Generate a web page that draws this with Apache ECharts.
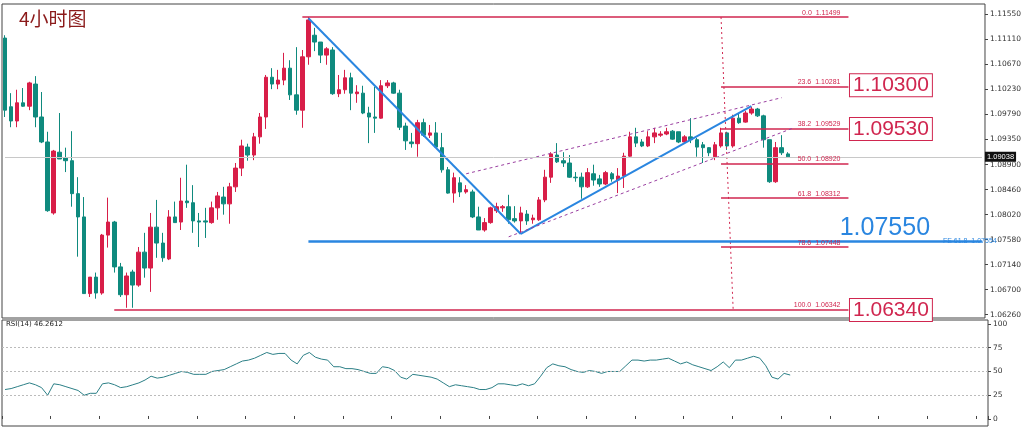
<!DOCTYPE html>
<html><head><meta charset="utf-8">
<script src="https://cdn.jsdelivr.net/npm/echarts@6/dist/echarts.min.js"></script>
<style>html,body{margin:0;padding:0;background:#fff}#c{width:1024px;height:427px}</style>
</head><body><div id="c"></div>
<script>
// [open, close, low, high]
const candles = [
[1.1113,1.0986,1.0974,1.1118],[1.0992,1.0967,1.0956,1.1016],[1.0967,1.0999,1.0956,1.1022],[1.0999,1.0993,1.0992,1.1025],
[1.0993,1.1034,1.0986,1.1036],[1.1032,1.0974,1.0956,1.1046],[1.0974,1.0930,1.0928,1.1018],[1.0930,1.0809,1.0807,1.0948],
[1.0805,1.0914,1.0802,1.0916],[1.0912,1.0900,1.0900,1.0981],[1.0902,1.0897,1.0877,1.0920],[1.0897,1.0839,1.0816,1.0949],
[1.0839,1.0798,1.0728,1.0868],[1.0798,1.0663,1.0663,1.0833],[1.0663,1.0692,1.0657,1.0692],[1.0692,1.0664,1.0654,1.0700],
[1.0664,1.0766,1.0661,1.0768],[1.0766,1.0789,1.0744,1.0832],[1.0789,1.0710,1.0700,1.0791],[1.0710,1.0661,1.0657,1.0717],
[1.0661,1.0694,1.0638,1.0700],[1.0701,1.0678,1.0638,1.0705],[1.0678,1.0736,1.0675,1.0745],[1.0736,1.0708,1.0691,1.0770],
[1.0708,1.0780,1.0666,1.0805],[1.0780,1.0752,1.0726,1.0828],[1.0752,1.0726,1.0719,1.0770],[1.0724,1.0798,1.0722,1.0810],
[1.0798,1.0788,1.0788,1.0825],[1.0789,1.0826,1.0775,1.0867],[1.0826,1.0823,1.0814,1.0890],[1.0823,1.0791,1.0770,1.0854],
[1.0791,1.0789,1.0745,1.0805],[1.0791,1.0789,1.0761,1.0814],[1.0788,1.0814,1.0786,1.0825],[1.0814,1.0835,1.0793,1.0842],
[1.0833,1.0821,1.0802,1.0851],[1.0821,1.0851,1.0786,1.0858],[1.0851,1.0884,1.0842,1.0893],[1.0884,1.0923,1.0870,1.0934],
[1.0921,1.0907,1.0897,1.0927],[1.0907,1.0939,1.0898,1.0946],[1.0939,1.0974,1.0927,1.0981],[1.0974,1.1044,1.0953,1.1048],
[1.1044,1.1032,1.1023,1.1060],[1.1032,1.1039,1.1023,1.1057],[1.1039,1.1060,1.1030,1.1087],[1.1060,1.1013,1.1004,1.1074],
[1.1013,1.0986,1.0978,1.1097],[1.0986,1.1080,1.0955,1.1092],[1.1080,1.1145,1.1066,1.1150],[1.1118,1.1106,1.1090,1.1131],
[1.1106,1.1083,1.1069,1.1106],[1.1083,1.1094,1.1066,1.1097],[1.1092,1.1015,1.1013,1.1097],[1.1015,1.1022,1.1009,1.1048],
[1.1022,1.1043,1.1015,1.1057],[1.1043,1.1016,1.0986,1.1052],[1.1015,1.1018,1.0999,1.1030],[1.1016,1.0981,1.0979,1.1029],
[1.0981,1.0974,1.0928,1.0992],[1.0974,1.0972,1.0946,1.1027],[1.0972,1.1029,1.0971,1.1039],[1.1029,1.1034,1.1025,1.1039],
[1.1034,1.1016,1.1015,1.1036],[1.1016,1.0956,1.0951,1.1022],[1.0958,1.0932,1.0916,1.0964],[1.0930,1.0927,1.0920,1.0946],
[1.0927,1.0964,1.0904,1.0969],[1.0964,1.0942,1.0939,1.0971],[1.0942,1.0946,1.0937,1.0960],[1.0946,1.0921,1.0920,1.0965],
[1.0920,1.0881,1.0876,1.0946],[1.0881,1.0840,1.0839,1.0886],[1.0840,1.0867,1.0823,1.0876],[1.0858,1.0842,1.0833,1.0868],
[1.0842,1.0846,1.0839,1.0854],[1.0842,1.0798,1.0796,1.0846],[1.0798,1.0775,1.0775,1.0816],[1.0775,1.0788,1.0772,1.0796],
[1.0788,1.0814,1.0786,1.0816],[1.0809,1.0816,1.0805,1.0823],[1.0814,1.0816,1.0807,1.0819],[1.0816,1.0793,1.0786,1.0837],
[1.0795,1.0791,1.0788,1.0817],[1.0791,1.0805,1.0770,1.0816],[1.0803,1.0791,1.0784,1.0810],[1.0793,1.0796,1.0786,1.0802],
[1.0793,1.0828,1.0791,1.0833],[1.0828,1.0868,1.0824,1.0881],[1.0868,1.0909,1.0858,1.0912],[1.0907,1.0895,1.0893,1.0928],
[1.0897,1.0893,1.0886,1.0912],[1.0893,1.0868,1.0867,1.0907],[1.0868,1.0867,1.0860,1.0877],[1.0868,1.0851,1.0830,1.0876],
[1.0851,1.0876,1.0849,1.0884],[1.0874,1.0863,1.0853,1.0890],[1.0865,1.0856,1.0851,1.0872],[1.0856,1.0876,1.0854,1.0879],
[1.0874,1.0865,1.0860,1.0877],[1.0863,1.0870,1.0840,1.0884],[1.0870,1.0905,1.0849,1.0911],[1.0905,1.0939,1.0904,1.0948],
[1.0939,1.0928,1.0921,1.0955],[1.0930,1.0923,1.0921,1.0935],[1.0923,1.0939,1.0921,1.0949],[1.0939,1.0946,1.0928,1.0955],
[1.0942,1.0944,1.0939,1.0949],[1.0944,1.0948,1.0942,1.0955],[1.0949,1.0935,1.0934,1.0951],[1.0948,1.0930,1.0928,1.0948],
[1.0930,1.0939,1.0928,1.0942],[1.0939,1.0934,1.0928,1.0972],[1.0934,1.0921,1.0904,1.0937],[1.0925,1.0920,1.0893,1.0930],
[1.0920,1.0911,1.0905,1.0921],[1.0904,1.0925,1.0898,1.0930],[1.0923,1.0946,1.0920,1.0955],[1.0946,1.0923,1.0916,1.0948],
[1.0923,1.0972,1.0920,1.0978],[1.0972,1.0964,1.0962,1.0981],[1.0965,1.0981,1.0964,1.0985],[1.0981,1.0988,1.0978,1.0992],
[1.0988,1.0976,1.0974,1.0990],[1.0976,1.0934,1.0920,1.0978],[1.0934,1.0860,1.0858,1.0934],[1.0860,1.0920,1.0858,1.0930],
[1.0920,1.0911,1.0907,1.0942],[1.0909,1.09038,1.0902,1.0912]
];
const rsi = [31,32,34,36,38,36,33,25,37,36,34,32,30,25,27,27,37,38,36,33,34,36,38,41,45,43,44,46,48,50,
49,47,47,47,50,51,52,55,58,61,62,64,67,70,68,69,69,62,58,67,70,65,63,62,55,55,53,53,52,50,
48,48,55,54,51,44,42,47,46,45,44,42,38,34,36,35,34,33,31,31,33,37,37,36,35,37,35,37,45,54,
58,56,55,52,50,49,51,50,48,50,50,50,56,62,62,61,62,62,63,64,61,58,60,57,55,53,51,55,60,54,
62,62,64,66,64,56,44,42,48,46.26];
const fibLevels = ['0.0','23.6','38.2','50.0','61.8','78.6','100.0'];
const fibPrices = [1.11499,1.10281,1.09529,1.08920,1.08312,1.07448,1.06342];
const fibStart = [49,118,118,118,118,118,18];
const priceTicks = [1.1155,1.1111,1.1067,1.1023,1.0979,1.0935,1.0890,1.0846,1.0802,1.0758,1.0714,1.0670,1.0626];
const boxLabels = [['1.10300',1.1030],['1.09530',1.0953],['1.06340',1.0634]];
const lastPrice = 1.09038;
const feLevel = 1.0755;

const N = 162;
const cats = Array.from({length:N},(_,i)=>i);
const RED='#d81e48', TEAL='#0f8a7e', FIB='#d0264f', BLUE='#2a86e0';

const fibLines = fibPrices.map((p,i)=>[
  {coord:[fibStart[i],p], lineStyle:{color:FIB,width:1.5,type:'solid'},
   label:{show:true,position:'insideEndTop',formatter:fibLevels[i]+'  '+p.toFixed(5),color:FIB,fontSize:7,distance:[8,1]}},
  {coord:[139,p]}]);

const chart = echarts.init(document.getElementById('c'));
chart.setOption({
  animation:false,
  title:{text:'4小时图',left:14,top:4,textStyle:{fontFamily:'Noto Sans CJK SC',fontSize:19,fontWeight:'normal',color:'#8b1a1a'}},
  graphic:[{type:'text',left:6,top:321,style:{text:'RSI(14) 46.2612',fontSize:7,fill:'#222',fontFamily:'DejaVu Sans'}}],
  grid:[{left:2,right:36,top:4,height:314,show:true,borderColor:'#444',borderWidth:1},
        {left:2,right:36,top:320,height:106,show:true,borderColor:'#444',borderWidth:1}],
  xAxis:[{type:'category',data:cats,gridIndex:0,axisLine:{show:false},axisTick:{show:false},axisLabel:{show:false}},
         {type:'category',data:cats,gridIndex:1,axisLine:{show:false},axisTick:{show:true,interval:7,length:3,inside:true,lineStyle:{color:'#444'}},axisLabel:{show:false}}],
  yAxis:[{type:'value',gridIndex:0,position:'right',min:1.0620,max:1.1173,splitLine:{show:false},
          axisLine:{show:false},axisTick:{show:true,customValues:priceTicks,length:3,lineStyle:{color:'#444'}},
          axisLabel:{customValues:priceTicks,formatter:v=>v.toFixed(5),fontSize:7.5,color:'#333',margin:5,fontFamily:'DejaVu Sans'}},
         {type:'value',gridIndex:1,position:'right',min:-7.4,max:104.2,splitLine:{show:false},
          axisLine:{show:false},axisTick:{show:true,customValues:[0,25,50,75,100],length:3,lineStyle:{color:'#444'}},
          axisLabel:{customValues:[0,25,50,75,100],fontSize:7.5,color:'#333',margin:5,fontFamily:'DejaVu Sans'}}],
  series:[
    {type:'candlestick',xAxisIndex:0,yAxisIndex:0,data:candles,barWidth:4,
     itemStyle:{color:RED,color0:TEAL,borderColor:RED,borderColor0:TEAL,borderWidth:1},
     markLine:{silent:true,symbol:'none',animation:false,
       data:[
        ...fibLines,
        [{coord:[118,1.1150],lineStyle:{color:FIB,width:1,type:[2,3]},label:{show:false}},{coord:[120,1.0634]}],
        [{coord:[50,1.1148],lineStyle:{color:BLUE,width:2,type:'solid'},label:{show:false}},{coord:[85,1.0768]}],
        [{coord:[85,1.0768],lineStyle:{color:BLUE,width:2,type:'solid'},label:{show:false}},{coord:[123,1.0993]}],
        [{coord:[76,1.0874],lineStyle:{color:'#9a3fa0',width:1,type:[3,3]},label:{show:false}},{coord:[128,1.1008]}],
        [{coord:[83,1.0763],lineStyle:{color:'#9a3fa0',width:1,type:[3,3]},label:{show:false}},{coord:[130,1.0955]}],
        [{coord:[50,feLevel],lineStyle:{color:BLUE,width:2.5,type:'solid'},label:{show:false}},{coord:[161,feLevel]}],
        [{coord:[0,lastPrice],lineStyle:{color:'#c8c8c8',width:1,type:'solid'},
          label:{show:true,position:'end',formatter:lastPrice.toFixed(5),backgroundColor:'#111',color:'#fff',fontSize:7.5,padding:[1,2],distance:3}},
         {coord:[161,lastPrice]}]
       ]},
     markPoint:{silent:true,symbol:'rect',symbolSize:0,animation:false,
       data:[
        ...boxLabels.map(b=>({coord:[146,b[1]],label:{show:true,formatter:b[0],color:FIB,fontSize:21,fontFamily:'Liberation Sans',
          borderColor:FIB,borderWidth:1,padding:[1,3,0,3],backgroundColor:'#fff'}})),
        {coord:[145,feLevel],label:{show:true,formatter:'1.07550',color:BLUE,fontSize:25,fontFamily:'Liberation Sans',offset:[0,-13]}},
        {coord:[159,feLevel],label:{show:true,formatter:'FE 61.8  1.07554',color:BLUE,fontSize:7,offset:[0,0]}}
       ]}},
    {type:'line',xAxisIndex:1,yAxisIndex:1,data:rsi,symbol:'none',lineStyle:{color:'#2b7f86',width:1},
     markLine:{silent:true,symbol:'none',animation:false,label:{show:false},lineStyle:{color:'#bbb',type:[2,2],width:1},
       data:[{yAxis:25},{yAxis:50},{yAxis:75}]}}
  ]
});
</script></body></html>
